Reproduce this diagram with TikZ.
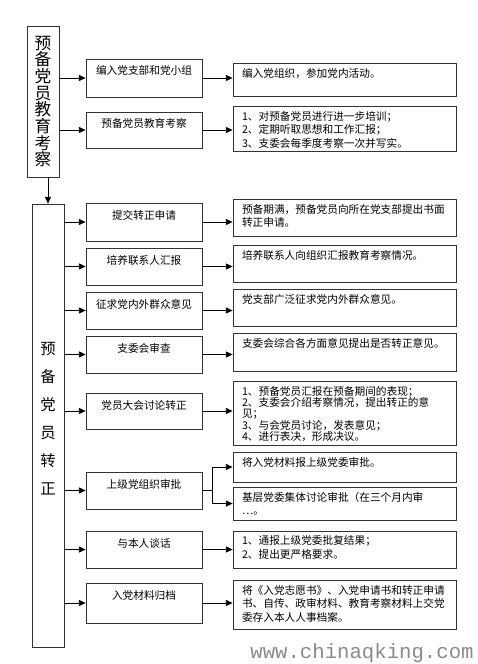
\documentclass[tikz,border=0pt]{standalone}
\usepackage{fontspec}
\newfontfamily\cjk{Noto Sans CJK SC}
\setmonofont{Liberation Mono}
\usetikzlibrary{arrows.meta,fit}
\definecolor{frame}{HTML}{333333}
\definecolor{wmgray}{HTML}{8A8A8A}
\tikzset{px/.style={x=.75pt,y=-.75pt,line width=.6pt,font=\cjk\fontsize{8}{10.2}\selectfont},
  bx/.style={draw=frame,inner sep=0pt},
  tx/.style={inner sep=0pt,anchor=north west,align=left},
  hd/.style={inner sep=0pt,anchor=center},
  ar/.style={-{Triangle[length=5pt,width=4.5pt]}}}

\begin{document}
\begin{tikzpicture}[px]
  \useasboundingbox (0,0) rectangle (478,664);
  % 预备党员教育考察
  \node[bx,fit={(27,26)(59,177)}] (kc) {};
  \node[inner sep=0pt,align=center,font=\cjk\fontsize{12.5}{12.5}\selectfont] (kct) at (kc.center) {预\\备\\党\\员\\教\\育\\考\\察};
  \node[bx,fit={(86,59)(202,97)}] (k1) {};\node[hd] (k1t) at ([shift={(0,12)}]k1.north) {编入党支部和党小组};
  \node[bx,fit={(86,112)(202,148)}] (k2) {};\node[hd] (k2t) at ([shift={(0,12)}]k2.north) {预备党员教育考察};
  \node[bx,fit={(233,63)(456,96)}] (kn1) {};\node[tx] (kn1t) at ([shift={(9,5)}]kn1.north west) {编入党组织，参加党内活动。};
  \node[bx,fit={(233,106)(456,151)}] (kn2) {};\node[tx] (kn2t) at ([shift={(9,5)}]kn2.north west) {1、对预备党员进行进一步培训；\\2、定期听取思想和工作汇报；\\3、支委会每季度考察一次并写实。};
  \draw[ar] (k1.west -| kc.east) -- (k1.west);\draw[ar] (k2.west -| kc.east) -- (k2.west);
  \draw[ar] (k1.east) -- (k1.east -| kn1.west);\draw[ar] (k2.east) -- (k2.east -| kn2.west);
  % 预备党员转正
  \node[bx,fit={(32,204)(64,647)}] (zz) {};
  \node[inner sep=0pt,align=center,font=\cjk\fontsize{11.5}{21}\selectfont] (zzt) at (48,419) {预\\备\\党\\员\\转\\正};
  \draw[ar] (kc.south -| zz.north) -- (zz.north);
  \node[bx,fit={(86,203)(202,241)}] (z1) {};\node[hd] (z1t) at ([shift={(0,13)}]z1.north) {提交转正申请};
  \node[bx,fit={(86,248)(202,285)}] (z2) {};\node[hd] (z2t) at ([shift={(0,13)}]z2.north) {培养联系人汇报};
  \node[bx,fit={(86,292)(202,329)}] (z3) {};\node[hd] (z3t) at ([shift={(0,13)}]z3.north) {征求党内外群众意见};
  \node[bx,fit={(86,336)(202,373)}] (z4) {};\node[hd] (z4t) at ([shift={(0,13)}]z4.north) {支委会审查};
  \node[bx,fit={(86,393)(202,429)}] (z5) {};\node[hd] (z5t) at ([shift={(0,13)}]z5.north) {党员大会讨论转正};
  \node[bx,fit={(86,472)(202,509)}] (z6) {};\node[hd] (z6t) at ([shift={(0,13)}]z6.north) {上级党组织审批};
  \node[bx,fit={(86,531)(202,568)}] (z7) {};\node[hd] (z7t) at ([shift={(0,13)}]z7.north) {与本人谈话};
  \node[bx,fit={(86,583)(202,623)}] (z8) {};\node[hd] (z8t) at ([shift={(0,13)}]z8.north) {入党材料归档};
  \node[bx,fit={(233,199)(456,236)}] (zn1) {};\node[tx] (zn1t) at ([shift={(9,5)}]zn1.north west) {预备期满，预备党员向所在党支部提出书面\\转正申请。};
  \node[bx,fit={(233,245)(456,282)}] (zn2) {};\node[tx] (zn2t) at ([shift={(9,5)}]zn2.north west) {培养联系人向组织汇报教育考察情况。};
  \node[bx,fit={(233,289)(456,326)}] (zn3) {};\node[tx] (zn3t) at ([shift={(9,5)}]zn3.north west) {党支部广泛征求党内外群众意见。};
  \node[bx,fit={(233,333)(456,371)}] (zn4) {};\node[tx] (zn4t) at ([shift={(9,5)}]zn4.north west) {支委会综合各方面意见提出是否转正意见。};
  \node[bx,fit={(233,381)(456,445)}] (zn5) {};\node[tx,font=\cjk\fontsize{8}{8.5}\selectfont] (zn5t) at ([shift={(9,5)}]zn5.north west) {1、预备党员汇报在预备期间的表现；\\2、支委会介绍考察情况，提出转正的意\\见；\\3、与会党员讨论，发表意见；\\4、进行表决，形成决议。};
  \node[bx,fit={(233,452)(456,482)}] (zn6) {};\node[tx] (zn6t) at ([shift={(9,5)}]zn6.north west) {将入党材料报上级党委审批。};
  \node[bx,fit={(233,487)(456,520)}] (zn7) {};\node[tx] (zn7t) at ([shift={(9,5)}]zn7.north west) {基层党委集体讨论审批（在三个月内审\\…。};
  \node[bx,fit={(233,531)(456,568)}] (zn8) {};\node[tx] (zn8t) at ([shift={(9,5)}]zn8.north west) {1、通报上级党委批复结果；\\2、提出更严格要求。};
  \node[bx,fit={(233,580)(456,629)}] (zn9) {};\node[tx] (zn9t) at ([shift={(9,5)}]zn9.north west) {将《入党志愿书》、入党申请书和转正申请\\书、自传、政审材料、教育考察材料上交党\\委存入本人人事档案。};
  \foreach \i in {1,...,8} \draw[ar] (z\i.west -| zz.east) -- (z\i.west);
  \foreach \s/\n in {1/1,2/2,3/3,4/4,5/5,7/8,8/9} \draw[ar] (z\s.east) -- (z\s.east -| zn\n.west);
  \coordinate (z6j) at ([shift={(10,0)}]z6.east);
  \draw (z6.east) -- (z6j);\draw[ar] (z6j) |- (zn6.west);\draw[ar] (z6j) |- (zn7.west);
  \node[wmgray,inner sep=0pt,anchor=east,font=\ttfamily\fontsize{15.5}{15.5}\selectfont] (url) at (474,653) {www.chinaqking.com};
\end{tikzpicture}
\end{document}
